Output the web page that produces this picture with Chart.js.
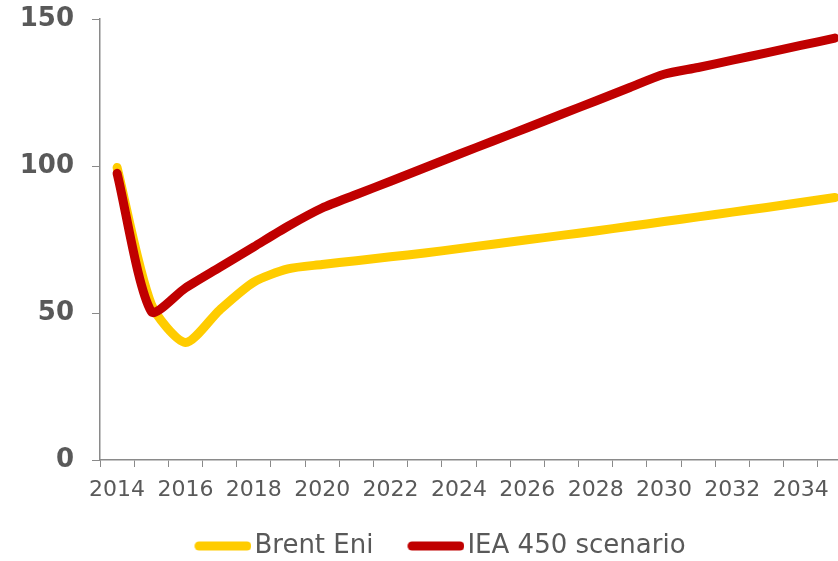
<!DOCTYPE html>
<html>
<head>
<meta charset="utf-8">
<script src="https://cdn.jsdelivr.net/npm/chart.js@4/dist/chart.umd.min.js"></script>
<style>
  html, body { margin: 0; padding: 0; background: #fff; overflow: hidden; }
  /* the plot runs past the right edge of the picture, as in the source */
  #wrap { width: 838px; height: 561px; overflow: hidden; }
</style>
</head>
<body>
<div id="wrap"><canvas id="oilChart" width="852" height="561"></canvas></div>
<script>
const YEARS = ['2014', '2015', '2016', '2017', '2018', '2019', '2020', '2021', '2022', '2023', '2024',
  '2025', '2026', '2027', '2028', '2029', '2030', '2031', '2032', '2033', '2034', '2035'];
const BRENT_ENI = [99.5, 53, 40, 51, 60.5, 65, 66.5, 67.8, 69.1, 70.4, 71.9,
  73.4, 74.9, 76.4, 77.9, 79.5, 81.1, 82.7, 84.3, 85.9, 87.6, 89.3];
const IEA_450 = [97.5, 50.5, 58.5, 65.5, 72.5, 79.5, 85.7, 90.3, 94.8, 99.4, 104,
  108.5, 113, 117.6, 122.1, 126.7, 131.2, 133.5, 136, 138.5, 141, 143.5];
const Y_TICKS = [0, 50, 100, 150];

const GREY_TEXT = '#595959';
const AXIS_GREY = '#8a8a8a';
const LINE_W = 9;

Chart.defaults.font.family = '"DejaVu Sans", Verdana, sans-serif';
Chart.defaults.color = GREY_TEXT;

// Legend swatch: a short round-capped stroke that sits close to its label,
// like the Excel legend (Chart.js's own 'line' style leaves a wide gap).
function legendSwatch(color) {
  const c = document.createElement('canvas');
  c.width = 67; c.height = 12;
  const g = c.getContext('2d');
  g.strokeStyle = color; g.lineWidth = LINE_W; g.lineCap = 'round';
  g.beginPath(); g.moveTo(10 + LINE_W / 2, 6); g.lineTo(67 - LINE_W / 2, 6); g.stroke();
  return c;
}

function seriesStyle(color) {
  return {
    borderColor: color, backgroundColor: color,
    borderWidth: LINE_W, borderCapStyle: 'round', borderJoinStyle: 'round',
    pointRadius: 0, pointHoverRadius: 0, pointStyle: legendSwatch(color),
    tension: 0.25, fill: false,
  };
}

// The legend in the source sits a little right of the plot centre.
const nudgeLegend = {
  id: 'nudgeLegend',
  afterLayout(chart) { chart.legend.left += 4; chart.legend.right += 4; }
};

new Chart(document.getElementById('oilChart'), {
  type: 'line',
  data: {
    labels: YEARS,
    datasets: [
      { label: 'Brent Eni', data: BRENT_ENI, order: 1, ...seriesStyle('#FFCC00') },
      { label: 'IEA 450 scenario', data: IEA_450, order: 0, ...seriesStyle('#C00000') },
    ]
  },
  plugins: [nudgeLegend],
  options: {
    responsive: false,
    animation: false,
    devicePixelRatio: 1,
    layout: { padding: { top: 0, left: 20, right: 0, bottom: -8 } },
    plugins: {
      tooltip: { enabled: false },
      legend: {
        position: 'bottom',
        labels: {
          usePointStyle: true, pointStyleWidth: 47,
          padding: 34, color: GREY_TEXT, font: { size: 26 },
          sort: (a, b) => a.datasetIndex - b.datasetIndex,
        }
      }
    },
    scales: {
      x: {
        type: 'category',
        offset: true,
        grid: { offset: true, drawOnChartArea: false, drawTicks: true, tickLength: 7, color: AXIS_GREY },
        border: { display: true, color: AXIS_GREY, width: 1.5 },
        ticks: {
          autoSkip: false, maxRotation: 0, padding: 10,
          color: GREY_TEXT, font: { size: 22 },
          callback: (v, i) => (i % 2 === 0 ? YEARS[i] : ''),
        },
        afterFit: scale => { scale.height = 39; },
      },
      y: {
        min: 0, max: 150,
        afterBuildTicks: scale => { scale.ticks = Y_TICKS.map(value => ({ value })); },
        grid: { drawOnChartArea: false, drawTicks: true, tickLength: 8, color: AXIS_GREY },
        border: { display: true, color: AXIS_GREY, width: 1.5 },
        ticks: { padding: 18, color: GREY_TEXT, font: { size: 26, weight: 'bold' } },
        afterFit: scale => { scale.width = 80; scale.paddingTop = 19; scale.paddingBottom = 0; },
      }
    }
  }
});
</script>
</body>
</html>
